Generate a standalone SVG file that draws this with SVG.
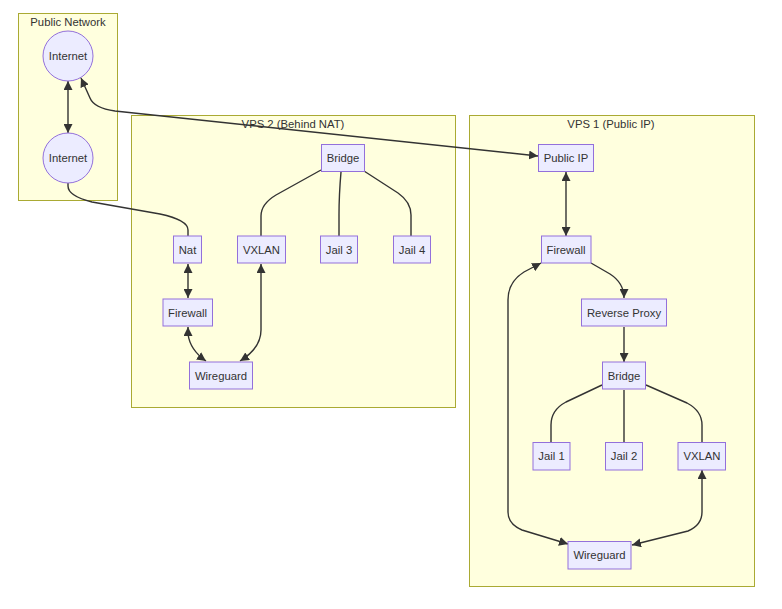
<svg xmlns="http://www.w3.org/2000/svg" width="782" height="609" viewBox="0 0 782 609">
<style>
.cluster rect{fill:#ffffde;stroke:#aaaa33;stroke-width:1}
.node rect,.node circle{fill:#ececff;stroke:#9370db;stroke-width:1}
text{font-family:"Liberation Sans",Arial,sans-serif;font-size:11.3px;fill:#333;text-anchor:middle;dominant-baseline:central}
.edge{fill:none;stroke:#333;stroke-width:1.4}
</style>
<defs>
<marker id="arr" viewBox="0 0 10 10" refX="10" refY="5" markerUnits="userSpaceOnUse" markerWidth="9" markerHeight="9" orient="auto-start-reverse">
<path d="M0,0 L10,5 L0,10 z" fill="#333"/>
</marker>
</defs>
<rect width="782" height="609" fill="#fff"/>
<g id="clusters">
<g id="public-network" class="cluster"><rect x="18.5" y="13.5" width="99" height="187"/><text x="68" y="22">Public Network</text></g>
<g id="vps2" class="cluster"><rect x="131.5" y="115.5" width="324" height="292"/><text x="293" y="124">VPS 2 (Behind NAT)</text></g>
<g id="vps1" class="cluster"><rect x="469.5" y="115.5" width="285" height="471"/><text x="611" y="124">VPS 1 (Public IP)</text></g>
</g>
<g id="connectors">
<path class="edge" d="M68,81 L68,133" marker-start="url(#arr)" marker-end="url(#arr)"/>
<path class="edge" d="M81,78 L90,98 Q94,108 115,111 L538,156" marker-start="url(#arr)" marker-end="url(#arr)"/>
<path class="edge" d="M68,183 L68,186 Q68,196 92,202 L160,214 Q188,220 188,230 L188,236"/>
<path class="edge" d="M188,264 L188,298" marker-start="url(#arr)" marker-end="url(#arr)"/>
<path class="edge" d="M188,327 L188,334 Q190,350 206,361" marker-start="url(#arr)" marker-end="url(#arr)"/>
<path class="edge" d="M261,264 L261,330 Q261,348 240,361" marker-start="url(#arr)" marker-end="url(#arr)"/>
<path class="edge" d="M321,170 L276,195 Q261,204 261,216 L261,236"/>
<path class="edge" d="M341,172 Q339,195 339,215 L339,236"/>
<path class="edge" d="M364,171 L398,193 Q411,202 411,215 L411,236"/>
<path class="edge" d="M566,172 L566,236" marker-start="url(#arr)" marker-end="url(#arr)"/>
<path class="edge" d="M591,263 L610,274 Q624,283 624,298" marker-end="url(#arr)"/>
<path class="edge" d="M624,327 L624,362" marker-end="url(#arr)"/>
<path class="edge" d="M602,385 L566,402 Q551,410 551,425 L551,442"/>
<path class="edge" d="M624,390 L624,442"/>
<path class="edge" d="M646,385 L687,403 Q702,411 702,425 L702,442"/>
<path class="edge" d="M702,470 L702,512 Q702,525 688,531 L632,545" marker-start="url(#arr)" marker-end="url(#arr)"/>
<path class="edge" d="M541,263 L524,272 Q508,282 508,300 L508,512 Q508,524 522,530 L568,544" marker-start="url(#arr)" marker-end="url(#arr)"/>
</g>
<g id="internet-1" class="node"><circle cx="68" cy="56" r="25"/><text x="68" y="56">Internet</text></g>
<g id="internet-2" class="node"><circle cx="68" cy="158" r="25"/><text x="68" y="158">Internet</text></g>
<g id="vps2-bridge" class="node"><rect x="321.5" y="144.5" width="43" height="27"/><text x="343" y="158">Bridge</text></g>
<g id="vps2-nat" class="node"><rect x="173.5" y="236" width="28" height="27"/><text x="187.5" y="250">Nat</text></g>
<g id="vps2-vxlan" class="node"><rect x="237.5" y="236" width="48" height="27"/><text x="261.5" y="250">VXLAN</text></g>
<g id="vps2-jail3" class="node"><rect x="320.5" y="236" width="37" height="27"/><text x="339" y="250">Jail 3</text></g>
<g id="vps2-jail4" class="node"><rect x="393.5" y="236" width="37" height="27"/><text x="412" y="250">Jail 4</text></g>
<g id="vps2-firewall" class="node"><rect x="163" y="299" width="49.5" height="27"/><text x="187.5" y="313">Firewall</text></g>
<g id="vps2-wireguard" class="node"><rect x="189.5" y="362" width="63" height="27"/><text x="221" y="376">Wireguard</text></g>
<g id="vps1-publicip" class="node"><rect x="538.5" y="144.5" width="55" height="27"/><text x="566" y="158">Public IP</text></g>
<g id="vps1-firewall" class="node"><rect x="541.5" y="236" width="49.5" height="27"/><text x="566" y="250">Firewall</text></g>
<g id="vps1-reverseproxy" class="node"><rect x="581.5" y="299" width="85" height="27"/><text x="624" y="313">Reverse Proxy</text></g>
<g id="vps1-bridge" class="node"><rect x="602.5" y="362" width="43" height="27"/><text x="624" y="376">Bridge</text></g>
<g id="vps1-jail1" class="node"><rect x="533" y="442.5" width="37" height="27.5"/><text x="551.5" y="456">Jail 1</text></g>
<g id="vps1-jail2" class="node"><rect x="605.5" y="442.5" width="37" height="27.5"/><text x="624" y="456">Jail 2</text></g>
<g id="vps1-vxlan" class="node"><rect x="678" y="442.5" width="47.5" height="27.5"/><text x="702" y="456">VXLAN</text></g>
<g id="vps1-wireguard" class="node"><rect x="568" y="541.5" width="63" height="27.5"/><text x="599.5" y="555">Wireguard</text></g>
</svg>
